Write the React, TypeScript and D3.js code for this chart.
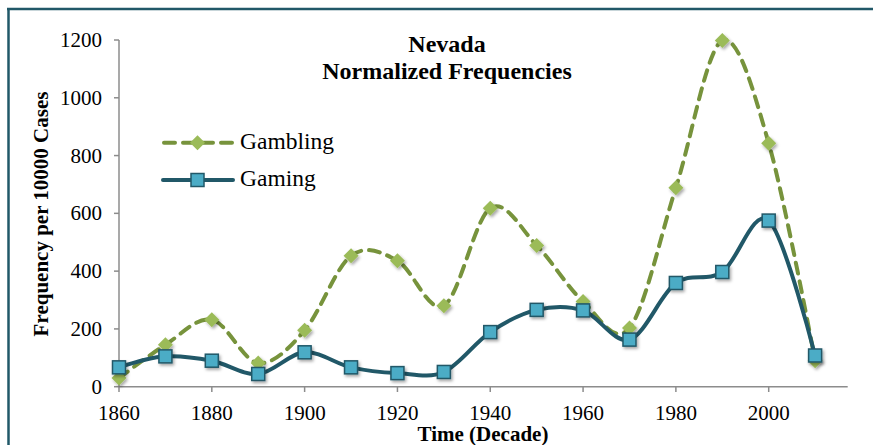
import React from "react";
import * as d3 from "d3";

const decades = [1860, 1870, 1880, 1890, 1900, 1910, 1920, 1930, 1940, 1950, 1960, 1970, 1980, 1990, 2000, 2010];
const gambling = [30, 145, 232, 82, 195, 453, 436, 280, 618, 489, 295, 203, 689, 1198, 843, 90];
const gaming = [67, 105, 90, 44, 119, 67, 47, 51, 189, 266, 264, 163, 359, 397, 575, 108];
const xTicks = [1860, 1880, 1900, 1920, 1940, 1960, 1980, 2000];
const yTicks = [0, 200, 400, 600, 800, 1000, 1200];
const seriesNames = ["Gambling", "Gaming"];

const W = 873;
const H = 445;
const FONT = "'Liberation Serif', 'Times New Roman', serif";

export default function App() {
  const x = d3.scaleLinear().domain([1860, 2000]).range([119, 768.7]);
  const xEnd = 847.7;
  const y = d3.scaleLinear().domain([0, 1200]).range([386.7, 40]);

  const line = d3
    .line<number>()
    .x((_, i) => x(decades[i]))
    .y((d) => y(d))
    .curve(d3.curveCardinal.tension(0));

  const gamblingLine = "#77933C";
  const gamblingFill = "#9BBB59";
  const gamingLine = "#215868";
  const gamingFill = "#4BACC6";
  const axisColor = "#8c8c8c";

  const diamond = (cx: number, cy: number, r: number) =>
    `M${cx},${cy - r}L${cx + r},${cy}L${cx},${cy + r}L${cx - r},${cy}Z`;

  return (
    <svg
      width={W}
      height={H}
      style={{ position: "absolute", left: 0, top: 0, background: "#fff" }}
    >
      <defs>
        <filter id="sh" x="-50%" y="-50%" width="200%" height="200%">
          <feDropShadow dx="1.5" dy="2" stdDeviation="1.5" floodColor="#000" floodOpacity="0.35" />
        </filter>
      </defs>
      <rect x={0} y={0} width={W} height={H} fill="#fff" />
      {/* frame */}
      <line x1={8.5} x2={8.5} y1={8} y2={H} stroke="#215868" strokeWidth={2.5} />
      <line x1={7} x2={W} y1={9} y2={9} stroke="#215868" strokeWidth={2.5} />

      {/* axes */}
      <line x1={119} x2={119} y1={40} y2={386.7} stroke={axisColor} strokeWidth={1.5} />
      <line x1={119} x2={xEnd} y1={386.7} y2={386.7} stroke={axisColor} strokeWidth={1.5} />
      {yTicks.map((t) => (
        <g key={"y" + t}>
          <line x1={114} x2={119} y1={y(t)} y2={y(t)} stroke={axisColor} strokeWidth={1.5} />
          <text
            x={102}
            y={y(t)}
            dy="0.34em"
            textAnchor="end"
            fontFamily={FONT}
            fontSize={21}
            fill="#000"
          >
            {t}
          </text>
        </g>
      ))}
      {xTicks.map((t) => (
        <g key={"x" + t}>
          <line x1={x(t)} x2={x(t)} y1={386.7} y2={392} stroke={axisColor} strokeWidth={1.5} />
          <text x={x(t)} y={419.5} textAnchor="middle" fontFamily={FONT} fontSize={21} fill="#000">
            {t}
          </text>
        </g>
      ))}

      {/* axis titles */}
      <text
        transform={`translate(48,214) rotate(-90)`}
        textAnchor="middle"
        fontFamily={FONT}
        fontSize={21}
        fontWeight="bold"
      >
        Frequency per 10000 Cases
      </text>
      <text x={483} y={441} textAnchor="middle" fontFamily={FONT} fontSize={21} fontWeight="bold">
        Time (Decade)
      </text>

      {/* title */}
      <text x={447} y={52} textAnchor="middle" fontFamily={FONT} fontSize={24} fontWeight="bold">
        Nevada
      </text>
      <text x={447} y={79} textAnchor="middle" fontFamily={FONT} fontSize={24} fontWeight="bold">
        Normalized Frequencies
      </text>

      {/* series lines */}
      <path
        d={line(gambling) || ""}
        fill="none"
        stroke={gamblingLine}
        strokeWidth={4}
        strokeDasharray="11 8"
        strokeLinecap="round"
      />
      <path d={line(gaming) || ""} fill="none" stroke={gamingLine} strokeWidth={4} />

      {/* markers */}
      {gambling.map((v, i) => (
        <path
          key={"gm" + i}
          d={diamond(x(decades[i]), y(v), 7.5)}
          fill={gamblingFill}
          filter="url(#sh)"
        />
      ))}
      {gaming.map((v, i) => (
        <rect
          key={"gs" + i}
          x={x(decades[i]) - 6.5}
          y={y(v) - 6.5}
          width={13}
          height={13}
          fill={gamingFill}
          stroke={gamingLine}
          strokeWidth={1.5}
          filter="url(#sh)"
        />
      ))}

      {/* legend */}
      <g>
        <line
          x1={164}
          x2={232}
          y1={142.7}
          y2={142.7}
          stroke={gamblingLine}
          strokeWidth={4}
          strokeDasharray="11 8"
          strokeLinecap="round"
        />
        <path d={diamond(197.5, 142.7, 7.5)} fill={gamblingFill} />
        <text x={240} y={149} fontFamily={FONT} fontSize={23.5}>
          {seriesNames[0]}
        </text>
        <line x1={163} x2={233} y1={180} y2={180} stroke={gamingLine} strokeWidth={4} strokeLinecap="round" />
        <rect x={191} y={173.5} width={13} height={13} fill={gamingFill} stroke={gamingLine} strokeWidth={1.5} />
        <text x={240} y={186} fontFamily={FONT} fontSize={23.5}>
          {seriesNames[1]}
        </text>
      </g>
    </svg>
  );
}
